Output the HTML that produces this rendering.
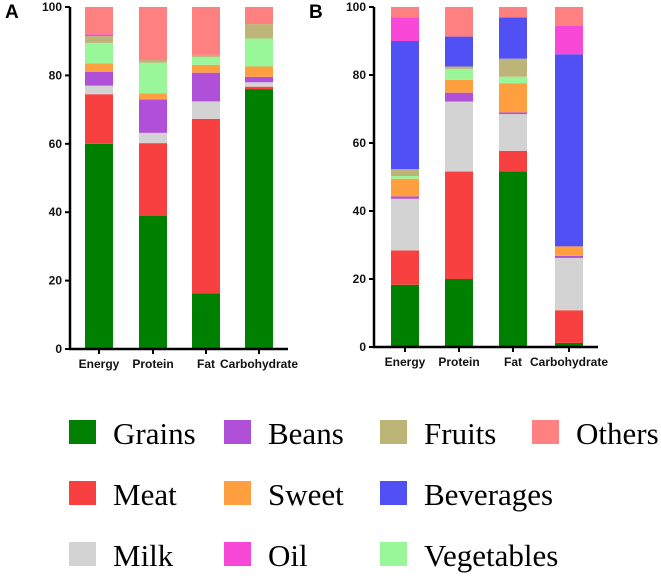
<!DOCTYPE html>
<html><head><meta charset="utf-8"><style>
body{margin:0;background:#fff;width:661px;height:580px;overflow:hidden}
svg text{font-family:"Liberation Sans",sans-serif}
</style></head><body>
<svg id="c" width="661" height="580"></svg>
<script>
const categories=["Energy","Protein","Fat","Carbohydrate"];
const seriesNames=["Grains","Meat","Milk","Beans","Sweet","Vegetables","Fruits","Beverages","Oil","Others"];
const yTicks=[0,20,40,60,80,100];
// cumulative top values per series, panel A
const aGrains=[60,39,16.3,76];
const aMeat=[74.5,60.2,67.3,76.7];
const aMilk=[77,63.2,72.4,78];
const aBeans=[81,73,80.8,79.6];
const aSweet=[83.5,74.7,83.1,82.6];
const aVeg=[89.5,83.7,85.4,90.8];
const aFruits=[91.5,84.5,86,95];
const aBev=[91.5,84.5,86,95];
const aOil=[92,84.5,86,95];
const aOthers=[100,100,100,100];
// panel B
const bGrains=[18.3,20,51.6,1.2];
const bMeat=[28.4,51.6,57.7,10.8];
const bMilk=[43.6,72.2,68.5,26.2];
const bBeans=[44.3,74.8,69,26.8];
const bSweet=[49.5,78.6,77.6,29.6];
const bVeg=[50.3,81.8,79.5,29.6];
const bFruits=[52.3,82.5,84.8,29.6];
const bBev=[90,91.3,96.9,86.1];
const bOil=[97,91.3,96.9,94.5];
const bOthers=[100,100,100,100];

const colors={Grains:"#008000",Meat:"#f94040",Milk:"#d3d3d3",Beans:"#b050d8",Sweet:"#ff9f40",Vegetables:"#99f799",Fruits:"#bdb478",Beverages:"#5050f5",Oil:"#f848d8",Others:"#ff8080"};
const NS="http://www.w3.org/2000/svg";
const svg=document.getElementById('c');
function mk(t,a,p){const e=document.createElementNS(NS,t);for(const k in a)e.setAttribute(k,a[k]);(p||svg).appendChild(e);return e;}

function panel(letter,ax,y0,y100,barX,barW,xEnd,data){
  const g=mk('g',{});
  
  
  const ys=v=>y0-(y0-y100)*v/100;
  categories.forEach((c,i)=>{
    let prev=0;
    data.forEach((arr,s)=>{
      const top=arr[i];
      if(top-prev>0){
        const r=mk('rect',{x:barX[i],y:ys(top),width:barW,height:ys(prev)-ys(top),fill:colors[seriesNames[s]]},g);
        
        
      }
      prev=Math.max(prev,top);
    });
    const t=mk('text',{x:barX[i]+barW/2,y:y0+19,'text-anchor':'middle','font-size':12,'font-weight':'bold',fill:'#111'},g);
    t.textContent=c;
    
    
    mk('line',{x1:barX[i]+barW/2,x2:barX[i]+barW/2,y1:y0,y2:y0+5,stroke:'#000','stroke-width':2},g);
  });
  const axy=mk('line',{x1:ax,x2:ax,y1:y100,y2:y0+1,stroke:'#000','stroke-width':2.5},g);
  
  
  const axx=mk('line',{x1:ax-1,x2:xEnd,y1:y0,y2:y0,stroke:'#000','stroke-width':2.5},g);
  
  
  yTicks.forEach(v=>{
    mk('line',{x1:ax-5,x2:ax,y1:ys(v),y2:ys(v),stroke:'#000','stroke-width':2},g);
    const t=mk('text',{x:ax-8,y:ys(v)+4,'text-anchor':'end','font-size':12,'font-weight':'bold',fill:'#111'},g);
    t.textContent=v;
    
    
  });
  const L=mk('text',{x:ax-65,y:y100+11,'font-size':19,'font-weight':'bold',fill:'#000'},g);
  L.textContent=letter;
  
  
}
panel('A',70,349,7,[85,139,192,245],28,288,[aGrains,aMeat,aMilk,aBeans,aSweet,aVeg,aFruits,aBev,aOil,aOthers]);
panel('B',374,347,7,[391,445,499,555],28,598,[bGrains,bMeat,bMilk,bBeans,bSweet,bVeg,bFruits,bBev,bOil,bOthers]);

const legendItems=[["Grains",69,432],["Beans",224,432],["Fruits",380,432],["Others",532,432],["Meat",69,493],["Sweet",224,493],["Beverages",380,493],["Milk",69,554],["Oil",224,554],["Vegetables",380,554]];
legendItems.forEach(([n,x,y])=>{
  const g=mk('g',{});
  
  
  mk('rect',{x:x,y:y-12,width:27,height:24,fill:colors[n]},g);
  const t=mk('text',{x:x+44,y:y+12,'font-size':31,fill:'#000'},g);
  t.style.fontFamily='"Liberation Serif",serif';
  t.textContent=n;
});
</script>
</body></html>
